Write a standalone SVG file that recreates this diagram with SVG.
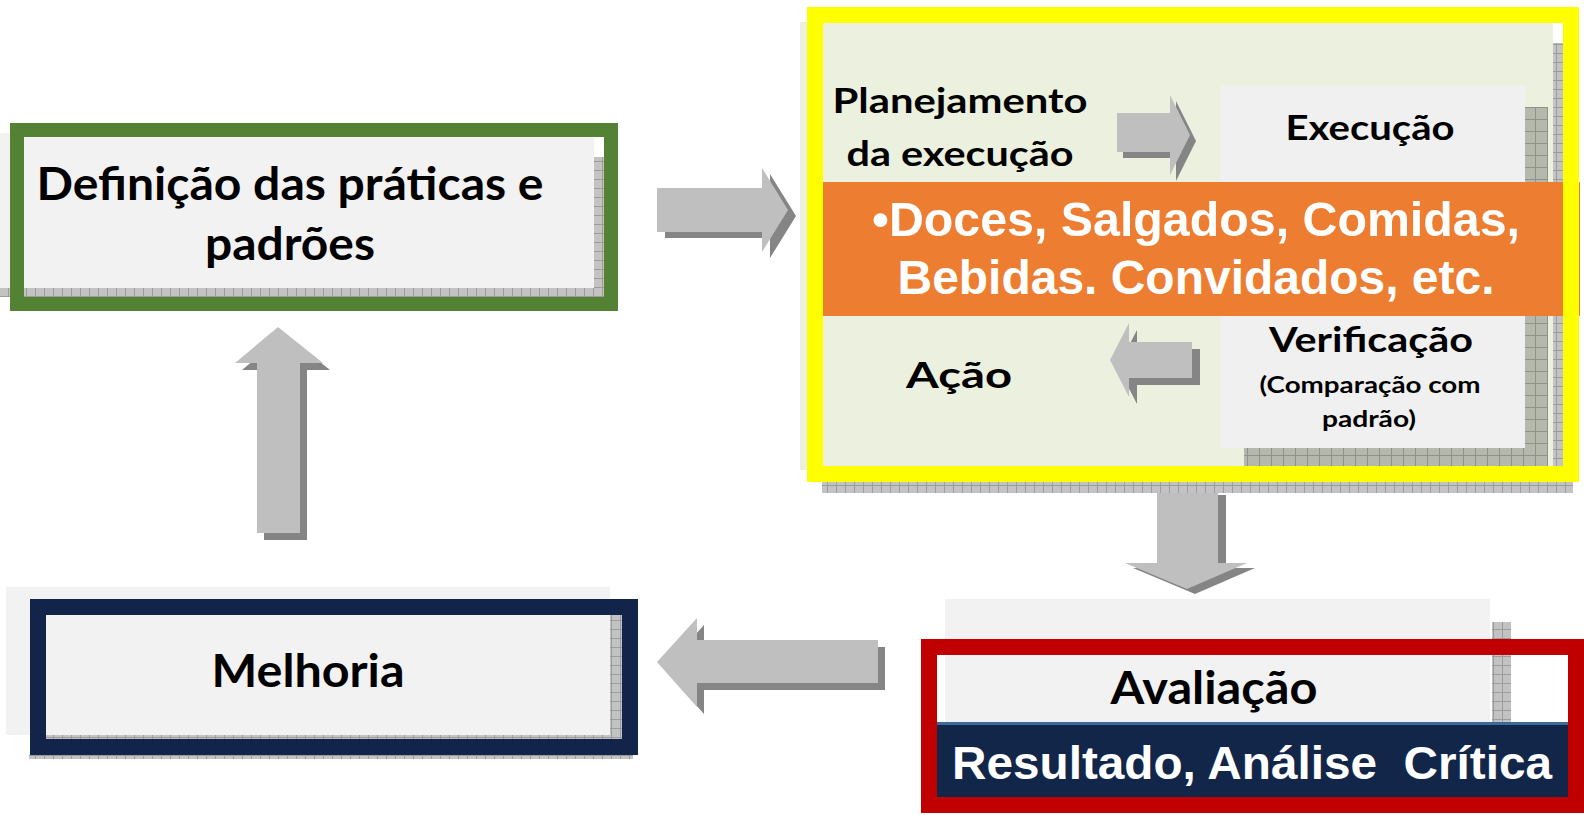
<svg xmlns="http://www.w3.org/2000/svg" width="1584" height="815" viewBox="0 0 1584 815">
<style>
.lbl{font-family:Lato,"Open Sans","Liberation Sans",sans-serif;font-weight:700;fill:#000;text-anchor:middle}
.wht{font-family:"Liberation Sans",Arial,sans-serif;font-weight:700;fill:#fff;text-anchor:middle;white-space:pre}
.arr{fill:#bfbfbf}
.shd{fill:#858585}
.panel{fill:#f2f2f2}
</style>
<defs>
<pattern id="hatch" width="9" height="9" patternUnits="userSpaceOnUse"><rect width="9" height="9" fill="#c3c3c3"/><path d="M0 8.5H9M8.5 0V9" stroke="#9c9c9c" stroke-width="1"/></pattern>
<pattern id="hatch2" width="12" height="12" patternUnits="userSpaceOnUse"><rect width="12" height="12" fill="#b5b9ad"/><path d="M0 11.5H12M11.5 0V12" stroke="#8e9287" stroke-width="1"/></pattern>
<polygon id="aRight" points="657,188 762,188 762,168 788,210 762,252 762,232 657,232"/>
<polygon id="aRightS" points="1117,113 1170,113 1170,95 1190,135 1170,175 1170,152 1117,152"/>
<polygon id="aLeftS" points="1192,342 1129,342 1129,323 1110,360 1129,397 1129,378 1192,378"/>
<polygon id="aUp" points="257,533 257,363 235,363 278,327 323,363 300,363 300,533"/>
<polygon id="aDown" points="1157,490 1218,490 1218,563 1247,563 1187,589 1125,563 1157,563"/>
<polygon id="aLeft" points="878,640 697,640 697,618 657,662 697,707 697,683 878,683"/>
</defs>

<g id="connectors">
<use href="#aRight" class="shd" transform="translate(8,6)"/>
<use href="#aRight" class="arr"/>
<use href="#aUp" class="shd" transform="translate(7,7)"/>
<use href="#aUp" class="arr"/>
<use href="#aDown" class="shd" transform="translate(8,5)"/>
<use href="#aDown" class="arr"/>
<use href="#aLeft" class="shd" transform="translate(7,7)"/>
<use href="#aLeft" class="arr"/>
</g>

<g id="node-definicao">
<rect x="0" y="133" width="594" height="155" class="panel"/>
<rect x="594" y="157" width="12" height="140" fill="url(#hatch)"/>
<rect x="0" y="288" width="606" height="9" fill="url(#hatch)"/>
<rect x="17" y="130" width="594" height="174" fill="none" stroke="#548235" stroke-width="14"/>
<text class="lbl" x="290" y="200" font-size="46" textLength="507" lengthAdjust="spacingAndGlyphs">Definição das práticas e</text>
<text class="lbl" x="290" y="260" font-size="46" textLength="170" lengthAdjust="spacingAndGlyphs">padrões</text>
</g>

<g id="node-ciclo">
<rect x="800" y="22" width="753" height="448" fill="#ebf1de"/>
<rect x="1553" y="43" width="10" height="450" fill="url(#hatch)"/>
<rect x="822" y="470" width="751" height="23" fill="url(#hatch)"/>
<rect x="1525" y="107" width="23" height="360" fill="url(#hatch2)"/>
<rect x="1244" y="448" width="304" height="19" fill="url(#hatch2)"/>
<rect x="1220" y="86" width="305" height="362" fill="#f0f0f0"/>
<g id="arrow-plan-exec">
<use href="#aRightS" class="shd" transform="translate(6,6)"/>
<use href="#aRightS" class="arr"/>
</g>
<g id="arrow-verif-acao">
<use href="#aLeftS" class="shd" transform="translate(8,7)"/>
<use href="#aLeftS" class="arr"/>
</g>
<text class="lbl" x="960" y="113" font-size="35" textLength="255" lengthAdjust="spacingAndGlyphs">Planejamento</text>
<text class="lbl" x="960" y="166" font-size="35" textLength="227" lengthAdjust="spacingAndGlyphs">da execução</text>
<text class="lbl" x="1370" y="140" font-size="35" textLength="169" lengthAdjust="spacingAndGlyphs">Execução</text>
<text class="lbl" x="1371" y="352" font-size="35" textLength="204" lengthAdjust="spacingAndGlyphs">Verificação</text>
<text class="lbl" x="1370" y="393" font-size="23" textLength="221" lengthAdjust="spacingAndGlyphs">(Comparação com</text>
<text class="lbl" x="1369" y="427" font-size="23" textLength="94" lengthAdjust="spacingAndGlyphs">padrão)</text>
<text class="lbl" x="959" y="388" font-size="36" textLength="106" lengthAdjust="spacingAndGlyphs">Ação</text>
<rect x="823" y="182" width="757" height="134" fill="#ed7d31"/>
<rect x="815" y="15" width="756" height="459" fill="none" stroke="#ffff00" stroke-width="16"/>
<text class="wht" x="1196" y="236" font-size="48" textLength="648" lengthAdjust="spacingAndGlyphs">•Doces, Salgados, Comidas,</text>
<text class="wht" x="1196" y="294" font-size="48" textLength="597" lengthAdjust="spacingAndGlyphs">Bebidas. Convidados, etc.</text>
</g>

<g id="node-avaliacao">
<rect x="945" y="599" width="545" height="124" class="panel"/>
<rect x="1492" y="622" width="19" height="101" fill="url(#hatch)"/>
<rect x="937" y="723" width="631" height="74" fill="#12264a"/>
<rect x="937" y="722" width="631" height="3" fill="#3d6a99"/>
<rect x="929" y="647" width="647" height="158" fill="none" stroke="#c00000" stroke-width="16"/>
<text class="lbl" x="1214" y="704" font-size="45" textLength="207" lengthAdjust="spacingAndGlyphs">Avaliação</text>
<text class="wht" x="1252" y="779" font-size="46" textLength="600" lengthAdjust="spacingAndGlyphs">Resultado, Análise  Crítica</text>
</g>

<g id="node-melhoria">
<rect x="6" y="587" width="604" height="148" class="panel"/>
<rect x="610" y="615" width="12" height="125" fill="url(#hatch)"/>
<rect x="30" y="735" width="592" height="5" fill="url(#hatch)"/>
<rect x="29" y="755" width="604" height="4" fill="url(#hatch)"/>
<rect x="38" y="607" width="592" height="140" fill="none" stroke="#12244a" stroke-width="16"/>
<text class="lbl" x="308" y="687" font-size="45" textLength="193" lengthAdjust="spacingAndGlyphs">Melhoria</text>
</g>
</svg>
